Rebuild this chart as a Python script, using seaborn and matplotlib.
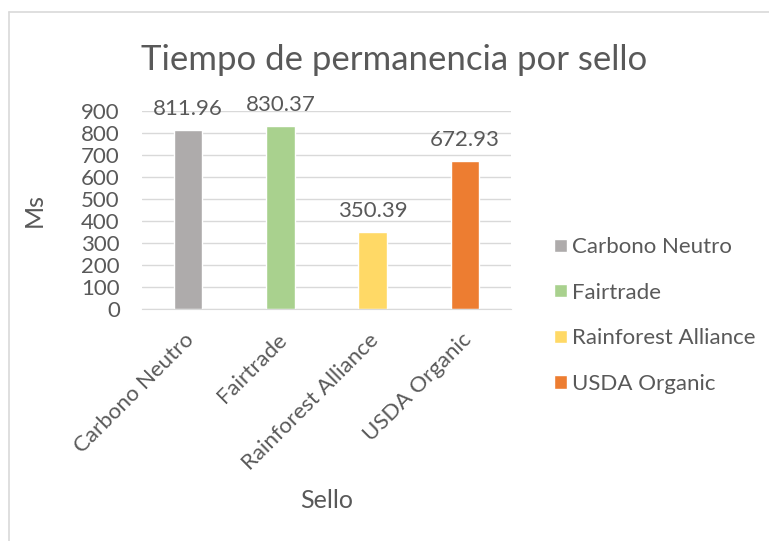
import pandas as pd
import matplotlib
matplotlib.use("Agg")
import matplotlib.pyplot as plt
import matplotlib.transforms as mtrans
from matplotlib.lines import Line2D
import seaborn as sns

# ==== Datos ====
sellos = ["Carbono Neutro", "Fairtrade", "Rainforest Alliance", "USDA Organic"]
tiempos = [811.96, 830.37, 350.39, 672.93]
colores = ["#AEABAB", "#A9D18E", "#FFD966", "#ED7D31"]
y_ticks = [0, 100, 200, 300, 400, 500, 600, 700, 800, 900]

df = pd.DataFrame({"Sello": sellos, "Ms": tiempos})

sns.set_style("white")
plt.rcParams["font.family"] = ["Lato", "DejaVu Sans"]
TXT = "#595959"
GRID = "#D9D9D9"

fig = plt.figure(figsize=(7.69, 5.41), dpi=100)
ax = fig.add_axes([0.1847, 0.4288, 0.4800, 0.3660])

sns.barplot(data=df, x="Sello", y="Ms", hue="Sello", palette=colores,
            width=0.31, saturation=1, legend=True, ax=ax)

ax.set_ylim(0, 900)
ax.set_yticks(y_ticks)
ax.yaxis.grid(True, color=GRID, linewidth=1)
ax.set_axisbelow(True)
for s in ["top", "right", "left"]:
    ax.spines[s].set_visible(False)
ax.spines["bottom"].set_color(GRID)
ax.tick_params(axis="both", length=0, colors=TXT, labelsize=16)
ax.tick_params(axis="y", pad=16)
ax.tick_params(axis="x", pad=15)

# etiquetas inclinadas, un poco desplazadas a la izquierda
shift = mtrans.ScaledTranslation(-4 / 100, 0, fig.dpi_scale_trans)
for lbl in ax.get_xticklabels():
    lbl.set_rotation(45)
    lbl.set_ha("right")
    lbl.set_rotation_mode("anchor")
    lbl.set_transform(lbl.get_transform() + shift)

for cont in ax.containers:
    ax.bar_label(cont, fmt="%.2f", padding=8, fontsize=16, color=TXT)

ax.set_xlabel("Sello", fontsize=18, color=TXT)
ax.xaxis.set_label_coords(0.50, -0.91)
ax.set_ylabel("Ms", fontsize=18, color=TXT)
ax.yaxis.set_label_coords(-0.26, 0.5)

fig.text(0.513, 0.89, "Tiempo de permanencia por sello", ha="center",
         va="center", fontsize=25, color=TXT)

handles, labels = ax.get_legend_handles_labels()
ax.legend(handles, labels, loc="center left", bbox_to_anchor=(0.695, 0.417),
          bbox_transform=fig.transFigure, frameon=False, fontsize=16,
          handlelength=0.55, handleheight=0.55, handletextpad=0.25,
          labelspacing=1.15, labelcolor=TXT)

# borde del gráfico
fig.add_artist(Line2D([9 / 769, 1], [1 - 12 / 541, 1 - 12 / 541],
                      color=GRID, linewidth=1.2, transform=fig.transFigure))
fig.add_artist(Line2D([9 / 769, 9 / 769], [0, 1 - 12 / 541],
                      color=GRID, linewidth=1.2, transform=fig.transFigure))

fig.savefig("out.png", dpi=100)
